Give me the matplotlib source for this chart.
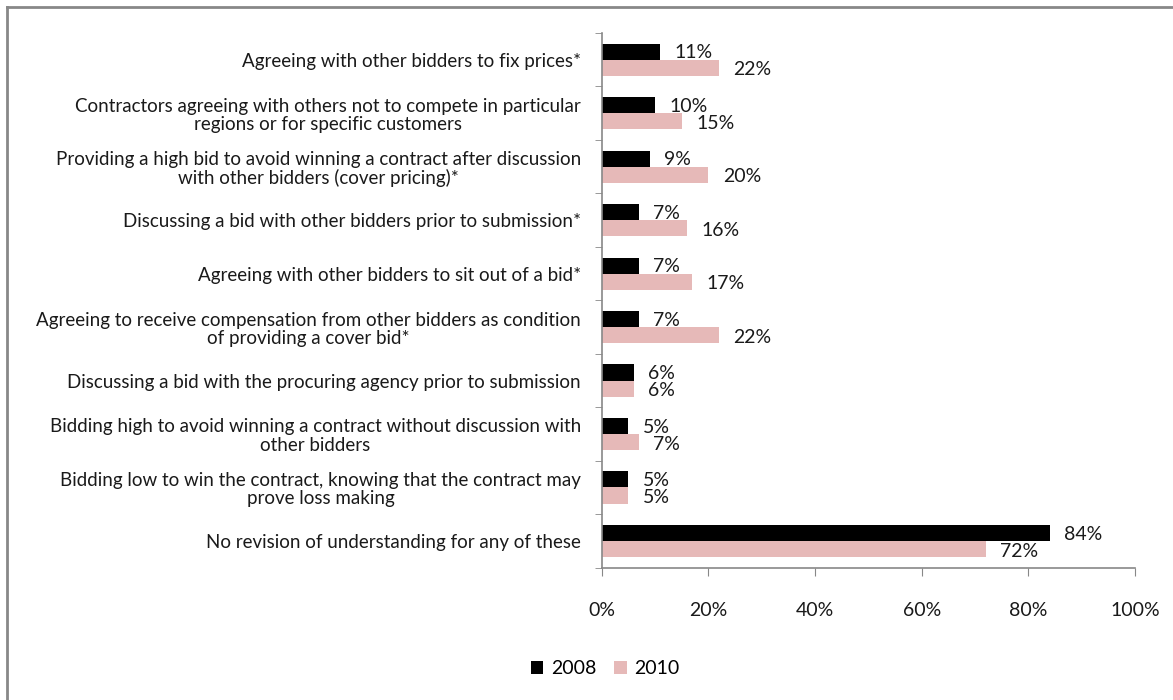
import matplotlib.pyplot as plt
from matplotlib.lines import Line2D
from matplotlib.patches import Patch
import numpy as np

plt.rcParams['font.family'] = ['Lato', 'DejaVu Sans']

categories = [
    "Agreeing with other bidders to fix prices*",
    "Contractors agreeing with others not to compete in particular\nregions or for specific customers",
    "Providing a high bid to avoid winning a contract after discussion\nwith other bidders (cover pricing)*",
    "Discussing a bid with other bidders prior to submission*",
    "Agreeing with other bidders to sit out of a bid*",
    "Agreeing to receive compensation from other bidders as condition\nof providing a cover bid*",
    "Discussing a bid with the procuring agency prior to submission",
    "Bidding high to avoid winning a contract without discussion with\nother bidders",
    "Bidding low to win the contract, knowing that the contract may\nprove loss making",
    "No revision of understanding for any of these",
]
vals_2008 = [11, 10, 9, 7, 7, 7, 6, 5, 5, 84]
vals_2010 = [22, 15, 20, 16, 17, 22, 6, 7, 5, 72]
series_names = ["2008", "2010"]
colors = ["#000000", "#E6B9B8"]

fig = plt.figure(figsize=(11.73, 7.0), dpi=100)
ax = fig.add_axes([0.513, 0.189, 0.4547, 0.764])

n = len(categories)
y = np.arange(n)
h = 0.3
ax.barh(y - h / 2, vals_2008, height=h, color=colors[0])
ax.barh(y + h / 2, vals_2010, height=h, color=colors[1])

for yi, v in zip(y, vals_2008):
    ax.text(v + 2.7, yi - h / 2 + 0.02, f"{v}%", va="center", ha="left", fontsize=14, color="#1a1a1a")
for yi, v in zip(y, vals_2010):
    ax.text(v + 2.7, yi + h / 2 + 0.04, f"{v}%", va="center", ha="left", fontsize=14, color="#1a1a1a")

ax.set_xlim(0, 100)
ax.set_ylim(n - 0.5, -0.5)
ax.set_xticks(np.arange(0, 101, 20))
ax.set_xticklabels([f"{t}%" for t in range(0, 101, 20)], fontsize=14, color="#1a1a1a")
ax.set_yticks(y)
ax.set_yticklabels(categories, fontsize=13.5, multialignment="center", color="#1a1a1a",
                   linespacing=1.1)
ax.tick_params(axis="y", length=0, pad=15)
ax.tick_params(axis="x", length=6, color="#888888", pad=19)

# category boundary ticks on the y axis
ax.set_yticks(np.arange(-0.5, n, 1), minor=True)
ax.tick_params(axis="y", which="minor", length=5, color="#888888")

for s in ["top", "right"]:
    ax.spines[s].set_visible(False)
for s in ["left", "bottom"]:
    ax.spines[s].set_color("#888888")
    ax.spines[s].set_linewidth(1.2)

handles = [Patch(facecolor=c, edgecolor="none") for c in colors]
fig.legend(handles, series_names, loc="center", bbox_to_anchor=(0.516, 0.045), ncol=2,
           frameon=False, fontsize=14, handlelength=0.65, handleheight=0.65,
           columnspacing=0.9, handletextpad=0.4)

# outer frame: top and left edges
fig.add_artist(Line2D([7 / 1173, 1], [1 - 7 / 700, 1 - 7 / 700], transform=fig.transFigure,
                      color="#888888", linewidth=2))
fig.add_artist(Line2D([7 / 1173, 7 / 1173], [0, 1 - 7 / 700], transform=fig.transFigure,
                      color="#888888", linewidth=2))

fig.savefig("out.png", dpi=100)
